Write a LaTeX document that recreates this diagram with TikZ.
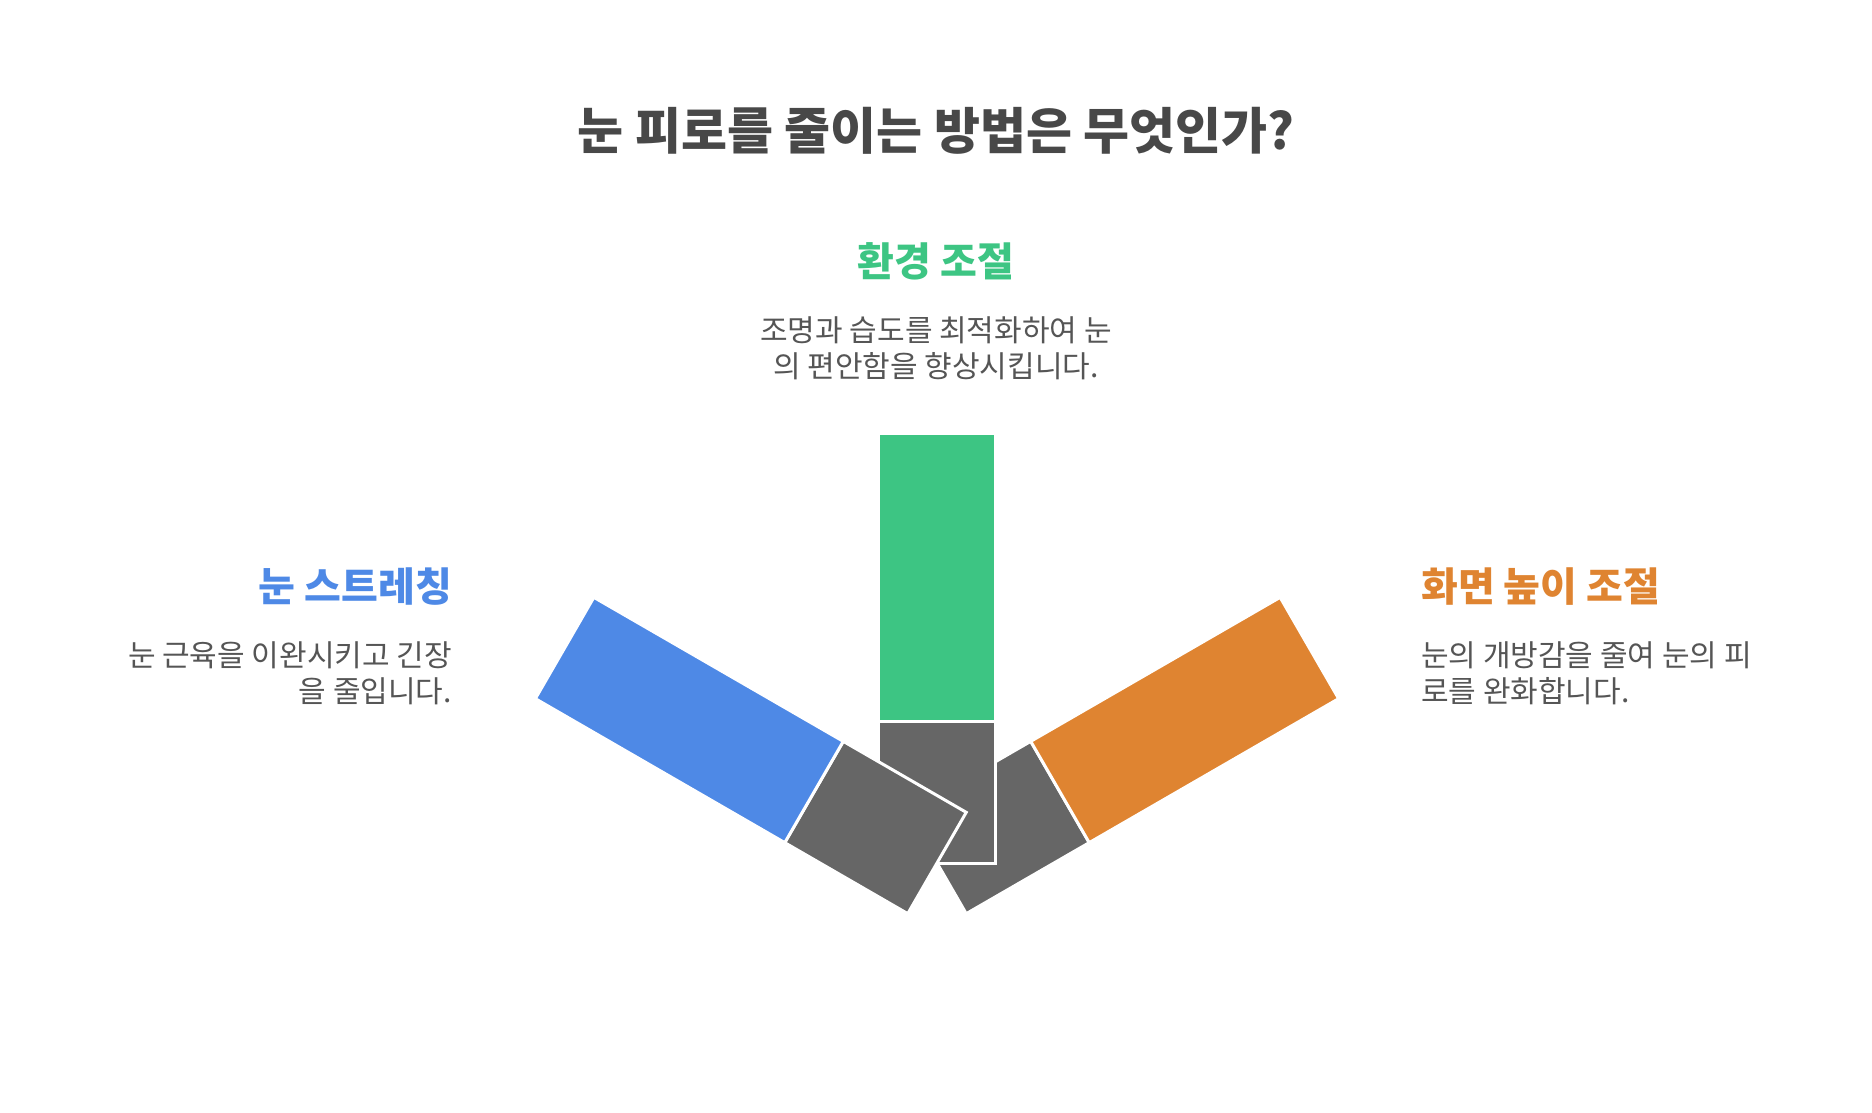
\documentclass[tikz,border=0pt]{standalone}
\usepackage{fontspec}
\setmainfont{Noto Sans CJK KR}
\definecolor{cblue}{HTML}{4E89E6}
\definecolor{cgreen}{HTML}{3DC583}
\definecolor{corange}{HTML}{DF8431}
\definecolor{cgray}{HTML}{666666}
\definecolor{ctitle}{HTML}{484848}
\definecolor{cdesc}{HTML}{555555}
\tikzset{
  titletext/.style={font=\fontsize{50}{60}\selectfont\bfseries, text=ctitle, inner sep=0pt},
  headtext/.style={font=\fontsize{40}{48}\selectfont\bfseries, inner sep=0pt},
  desctext/.style={font=\fontsize{30}{36}\selectfont, text=cdesc, inner sep=0pt},
  piece/.style={draw=white, line width=3pt, line join=miter},
}
\newcommand{\armshape}[1]{%
  \fill[cgray, piece] (-58.5,0) rectangle (58.5,142);
  \fill[#1, piece] (-58.5,142) rectangle (58.5,430);
}
\begin{document}
\begin{tikzpicture}[x=1pt,y=1pt]
\useasboundingbox (0,0) rectangle (1872,-1113);
\fill[white] (0,0) rectangle (1872,-1113);
% arms: right, center, left (drawing order)
\begin{scope}[shift={(937,-863)}, rotate=-60]
  \armshape{corange}
\end{scope}
\begin{scope}[shift={(937,-863)}]
  \armshape{cgreen}
\end{scope}
\begin{scope}[shift={(937,-863)}, rotate=60]
  \armshape{cblue}
\end{scope}
% texts
\node[titletext] (title) at (936,-131) {눈 피로를 줄이는 방법은 무엇인가?};
\node[headtext, text=cgreen] (h2) at (936,-261) {환경 조절};
\node[desctext, align=center] (d2) at (936,-348) {조명과 습도를 최적화하여 눈\\의 편안함을 향상시킵니다.};
\node[headtext, text=cblue, anchor=east] (h1) at (452,-587) {눈 스트레칭};
\node[desctext, align=right, anchor=east] (d1) at (452,-673) {눈 근육을 이완시키고 긴장\\을 줄입니다.};
\node[headtext, text=corange, anchor=west] (h3) at (1421,-587) {화면 높이 조절};
\node[desctext, align=left, anchor=west] (d3) at (1421,-673) {눈의 개방감을 줄여 눈의 피\\로를 완화합니다.};
\end{tikzpicture}
\end{document}
